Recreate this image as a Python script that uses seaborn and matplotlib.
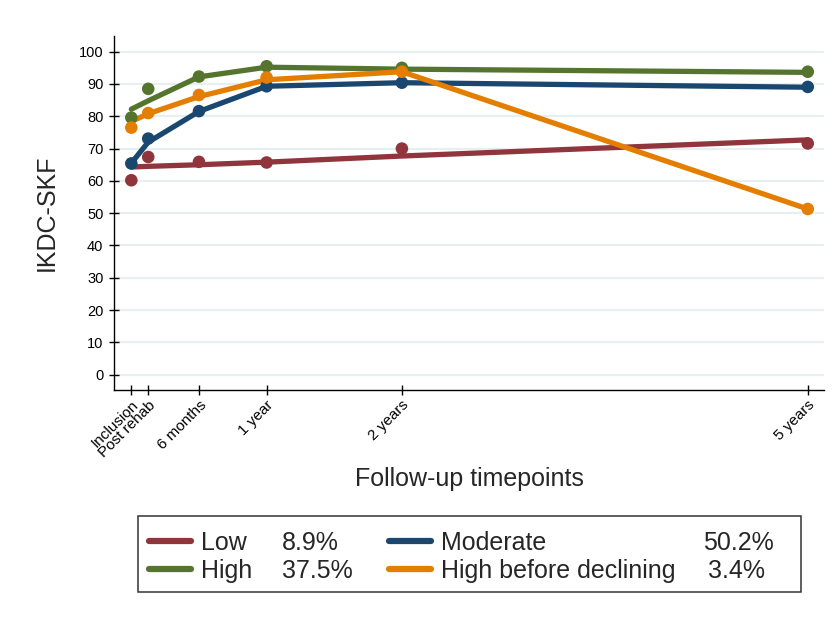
import matplotlib
matplotlib.use("Agg")
import matplotlib.pyplot as plt
import seaborn as sns
import pandas as pd
from matplotlib.lines import Line2D
from matplotlib.patches import Rectangle

sns.set_theme(style="white")
plt.rcParams["font.family"] = ["Liberation Sans", "DejaVu Sans"]

# Follow-up timepoints (years since inclusion) and their labels
timepoints = [0, 0.125, 0.5, 1, 2, 5]
tick_labels = ["Inclusion", "Post rehab", "6 months", "1 year", "2 years", "5 years"]

# Trajectory groups and their share of the cohort
groups = ["Low", "Moderate", "High", "High before declining"]
shares = ["8.9%", "50.2%", "37.5%", "3.4%"]

# Observed mean IKDC-SKF per group
observed_low = [60.2, 67.4, 65.9, 65.7, 70.0, 71.6]
observed_moderate = [65.4, 73.1, 81.6, 89.3, 90.4, 89.1]
observed_high = [79.6, 88.5, 92.3, 95.5, 95.0, 93.8]
observed_declining = [76.5, 81.0, 86.6, 92.0, 93.8, 51.3]

# Model-estimated trajectories per group
fitted_low = [64.3, 64.5, 65.0, 65.8, 67.7, 72.7]
fitted_moderate = [65.5, 72.0, 81.5, 89.3, 90.4, 89.0]
fitted_high = [82.2, 84.8, 92.2, 95.2, 94.6, 93.6]
fitted_declining = [78.4, 80.8, 86.1, 91.3, 93.8, 51.3]

colors = {
    "Low": "#90353B",
    "Moderate": "#1A476F",
    "High": "#55752F",
    "High before declining": "#E37E00",
}

rows = []
for g, obs, fit in [
    ("Low", observed_low, fitted_low),
    ("Moderate", observed_moderate, fitted_moderate),
    ("High", observed_high, fitted_high),
    ("High before declining", observed_declining, fitted_declining),
]:
    for t, o, f in zip(timepoints, obs, fit):
        rows.append({"time": t, "group": g, "observed": o, "fitted": f})
df = pd.DataFrame(rows)

W, H = 835, 617
fig = plt.figure(figsize=(W / 100, H / 100), dpi=100)
ax = fig.add_axes([114 / W, 1 - 390 / H, 710 / W, 354 / H])

ax.set_xlim(-0.128, 5.12)
ax.set_ylim(-4.74, 104.86)

ax.set_yticks(range(0, 101, 10))
ax.grid(axis="y", color="#E8EFF1", linewidth=1.6)
ax.set_axisbelow(True)

sns.lineplot(data=df, x="time", y="fitted", hue="group", hue_order=groups,
             palette=colors, linewidth=3.8, legend=False, ax=ax,
             estimator=None, sort=True)
sns.scatterplot(data=df, x="time", y="observed", hue="group", hue_order=groups,
                palette=colors, s=82, linewidth=0, legend=False, ax=ax,
                zorder=3)

for side in ["top", "right"]:
    ax.spines[side].set_visible(False)
for side in ["left", "bottom"]:
    ax.spines[side].set_color("black")
    ax.spines[side].set_linewidth(1.0)

ax.set_xticks(timepoints)
ax.set_xticklabels(tick_labels, rotation=45, ha="right", rotation_mode="anchor")
ax.tick_params(axis="both", direction="inout", length=7.2, width=1.0,
               color="black", labelcolor="black", bottom=True, left=True)
ax.tick_params(axis="y", labelsize=10.5, pad=4)
ax.tick_params(axis="x", labelsize=11, pad=2)

ax.set_ylabel("IKDC-SKF", fontsize=18)
ax.set_xlabel("Follow-up timepoints", fontsize=18)
ax.yaxis.set_label_coords(-0.078, 0.5)
ax.xaxis.set_label_coords(0.5, -0.2175)

# Legend: two columns, group names with their cohort shares
legend_order = ["Low", "High", "Moderate", "High before declining"]
handles = [Line2D([0], [0], color=colors[g], lw=4.5) for g in legend_order]
fig.legend(handles, legend_order, loc="upper left",
           bbox_to_anchor=(149 / W, 1 - 531 / H), frameon=False,
           ncol=2, fontsize=18, handlelength=1.68, handletextpad=0.4,
           columnspacing=5.46, labelspacing=0.15, borderpad=0,
           borderaxespad=0)

share_pos = {"Low": (282, 550.5), "High": (282, 578.5),
             "Moderate": (703, 550.5), "High before declining": (708, 578.5)}
for g, s in zip(groups, shares):
    x, y = share_pos[g]
    fig.text(x / W, 1 - y / H, s, fontsize=18, ha="left", va="baseline")

fig.patches.append(Rectangle((138 / W, 1 - 592 / H), 663 / W, 76 / H,
                             transform=fig.transFigure, fill=False,
                             edgecolor="#333333", linewidth=1.1))

fig.savefig("out.png", dpi=100, facecolor="white")
